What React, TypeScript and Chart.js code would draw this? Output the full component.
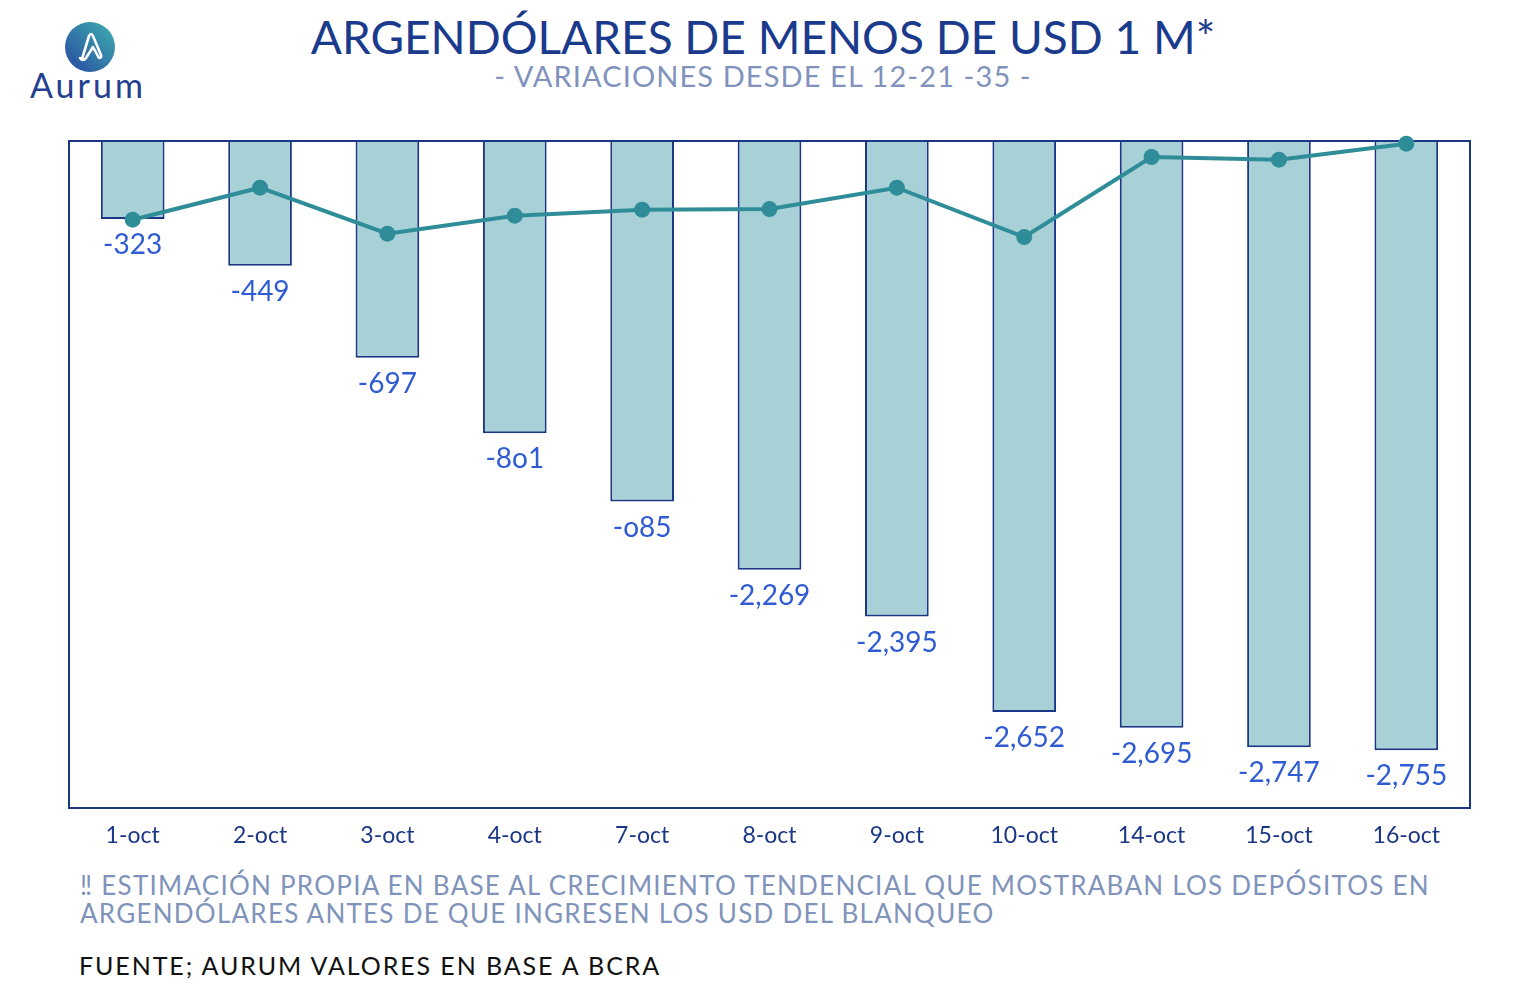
import React, { useEffect, useRef } from "react";
import { Chart, registerables } from "chart.js";

Chart.register(...registerables);

const categories = ["1-oct", "2-oct", "3-oct", "4-oct", "7-oct", "8-oct", "9-oct", "10-oct", "14-oct", "15-oct", "16-oct"];
// bar lengths (USD millions)
const barValues = [-323, -449, -697, -901, -1085, -1269, -1395, -1652, -1695, -1747, -1755];
// labels as printed in the picture
const barLabels = ["-323", "-449", "-697", "-8o1", "-o85", "-2,269", "-2,395", "-2,652", "-2,695", "-2,747", "-2,755"];
// line series (secondary, unlabelled scale 0-100)
const lineValues = [88.2, 93.0, 86.1, 88.8, 89.7, 89.8, 93.0, 85.6, 97.6, 97.2, 99.6];

const yMin = -1911;
const yMax = -113;

const NAVY = "#1b3685";
const FONT = "Lato, 'Open Sans', sans-serif";

export default function App() {
  const ref = useRef<HTMLCanvasElement | null>(null);

  useEffect(() => {
    document.body.style.margin = "0";
    const canvas = ref.current;
    if (!canvas) return;

    const borderPlugin = {
      id: "plotBorder",
      afterDatasetDraw(chart: any, args: any) {
        if (args.index !== 0) return;
        const { ctx, chartArea } = chart;
        ctx.save();
        ctx.strokeStyle = NAVY;
        ctx.lineWidth = 2;
        ctx.strokeRect(chartArea.left, chartArea.top, chartArea.right - chartArea.left, chartArea.bottom - chartArea.top);
        ctx.restore();
      },
    };

    const labelPlugin = {
      id: "barLabels",
      afterDatasetsDraw(chart: any) {
        const { ctx } = chart;
        const meta = chart.getDatasetMeta(0);
        ctx.save();
        ctx.fillStyle = "#2f5bd3";
        ctx.font = `28px ${FONT}`;
        ctx.textAlign = "center";
        ctx.textBaseline = "middle";
        meta.data.forEach((el: any, i: number) => {
          ctx.fillText(barLabels[i], el.x, el.y + 26);
        });
        ctx.restore();
      },
    };

    const chart = new Chart(canvas, {
      type: "bar",
      data: {
        labels: categories,
        datasets: [
          {
            type: "bar",
            data: barValues,
            backgroundColor: "#a8d1d7",
            borderColor: NAVY,
            borderWidth: 2,
            borderSkipped: false,
            barPercentage: 0.5,
            categoryPercentage: 1,
            yAxisID: "y",
            order: 2,
            clip: 0,
          } as any,
          {
            type: "line",
            data: lineValues,
            borderColor: "#2e8d98",
            backgroundColor: "#2e8d98",
            borderWidth: 4,
            pointRadius: 8,
            pointHoverRadius: 8,
            pointBorderWidth: 0,
            tension: 0,
            yAxisID: "y1",
            order: 1,
            clip: false,
          } as any,
        ],
      },
      options: {
        responsive: false,
        animation: false,
        devicePixelRatio: 1,
        layout: { padding: { left: 9, right: 10, top: 11, bottom: 0 } },
        plugins: { legend: { display: false }, tooltip: { enabled: false } },
        scales: {
          x: {
            grid: { display: false },
            border: { display: false },
            ticks: { color: NAVY, font: { family: FONT, size: 23 }, padding: 6 },
            afterFit(scale: any) {
              scale.height = 52;
            },
          },
          y: { display: false, min: yMin, max: yMax },
          y1: { display: false, min: 0, max: 100 },
        },
      },
      plugins: [borderPlugin, labelPlugin],
    } as any);

    return () => chart.destroy();
  }, []);

  return (
    <div style={{ position: "absolute", left: 0, top: 0, width: 1526, height: 999, background: "#fff", fontFamily: FONT, overflow: "hidden" }}>
      <svg style={{ position: "absolute", left: 0, top: 0 }} width={200} height={120}>
        <defs>
          <linearGradient id="lg" x1="0" y1="1" x2="1" y2="0">
            <stop offset="0" stopColor="#2748a3" />
            <stop offset="1" stopColor="#3fb0ad" />
          </linearGradient>
        </defs>
        <circle cx={90} cy={47} r={25} fill="url(#lg)" />
        <path d="M 82 59 L 89 36 Q 91 32 93 36 L 101 55 Q 102 58 99 58 L 93 47 L 86 58 Q 83 62 80 58" fill="none" stroke="#fff" strokeWidth={2.6} strokeLinejoin="round" strokeLinecap="round" />
      </svg>
      <div style={{ position: "absolute", left: 30, top: 68, fontSize: 34, lineHeight: "34px", color: "#243f8f", letterSpacing: 3 }}>Aurum</div>
      <div style={{ position: "absolute", left: 0, width: 1526, top: 14, textAlign: "center", fontSize: 46, lineHeight: "46px", color: "#1a3a8c" }}>
        ARGENDÓLARES DE MENOS DE USD 1 M*
      </div>
      <div style={{ position: "absolute", left: 0, width: 1526, top: 61, textAlign: "center", fontSize: 29, lineHeight: "29px", color: "#8193bc", letterSpacing: 1.1 }}>
        - VARIACIONES DESDE EL 12-21 -35 -
      </div>
      <div style={{ position: "absolute", left: 60, top: 130, width: 1420, height: 730 }}>
        <canvas ref={ref} width={1420} height={730} style={{ display: "block" }} />
      </div>
      <div style={{ position: "absolute", left: 80, top: 871, fontSize: 26, lineHeight: "28px", color: "#7f93bb", whiteSpace: "nowrap", letterSpacing: 1.25 }}>
        ‼ ESTIMACIÓN PROPIA EN BASE AL CRECIMIENTO TENDENCIAL QUE MOSTRABAN LOS DEPÓSITOS EN
        <br />
        ARGENDÓLARES ANTES DE QUE INGRESEN LOS USD DEL BLANQUEO
      </div>
      <div style={{ position: "absolute", left: 79, top: 953, fontSize: 25, lineHeight: "25px", color: "#111", whiteSpace: "nowrap", letterSpacing: 1.9 }}>
        FUENTE; AURUM VALORES EN BASE A BCRA
      </div>
    </div>
  );
}
